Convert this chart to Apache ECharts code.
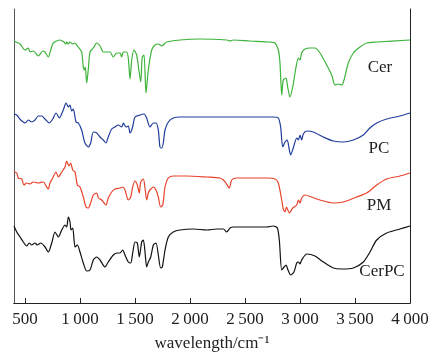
<!DOCTYPE html>
<html>
<head>
<meta charset="utf-8">
<script src="https://cdn.jsdelivr.net/npm/echarts@6/dist/echarts.min.js"></script>
<style>html,body{margin:0;padding:0;background:#fff}#c{width:433px;height:357px}</style>
</head>
<body>
<div id="c"></div>
<script>
// wavenumber (cm^-1) and offset transmittance (arbitrary units)
const cerX = [400,455,500,530,545,575,621,661,682,712,734,757,818,854,873,879,894,909,934,955,970,985,1015,1030,1039,1048,1061,1075,1091,1121,1152,1182,1212,1243,1273,1303,1334,1364,1379,1394,1425,1439,1455,1470,1491,1515,1539,1552,1566,1582,1600,1621,1652,1682,1712,1743,1788,1909,2091,2334,2364,2394,2545,2727,2773,2803,2818,2834,2848,2873,2888,2909,2934,2964,2985,3000,3015,3045,3091,3136,3182,3243,3288,3318,3348,3379,3400,3439,3485,3545,3606,3697,4000];
const cerY = [262,259,253,255,251,252,247,252,251,246,253,260,263,261,259,261,259,261,259,260,258,256,251,236,233,236,220,233,251,255,260,257,251,251,251,246,250,250,246,251,251,245,224,243,253,248,230,221,246,248,210,233,253,258,259,257,261,263,264,263,262,263,262,261,260,253,240,208,223,225,216,206,216,236,245,243,250,254,255,255,250,238,228,218,219,218,223,240,250,256,260,261,263];

const pcX = [400,425,461,485,500,530,561,591,621,652,682,721,752,782,812,848,873,894,909,924,939,964,985,1015,1045,1075,1097,1121,1152,1182,1212,1236,1257,1288,1318,1348,1379,1394,1418,1439,1455,1476,1500,1545,1582,1606,1636,1667,1691,1712,1727,1743,1757,1773,1803,1848,1909,2273,2757,2803,2824,2843,2864,2884,2900,2915,2939,2970,2985,3000,3015,3030,3061,3121,3212,3303,3394,3485,3576,3636,3697,3788,3909,4000];
const pcY = [189,188,183,181,180,183,181,183,187,187,184,180,184,190,185,193,200,196,198,192,194,181,180,173,160,156,160,171,170,166,163,160,166,174,176,178,176,180,176,177,170,175,186,188,189,185,176,180,180,173,156,155,160,173,181,185,186,186,186,185,176,156,161,163,155,148,155,165,163,168,163,169,172,171,166,162,161,163,168,175,180,184,187,190];

const pmX = [400,425,439,470,491,515,545,575,621,667,697,712,727,752,782,803,834,864,879,900,915,934,955,976,1000,1030,1055,1075,1097,1121,1152,1167,1197,1236,1257,1288,1318,1364,1388,1409,1439,1461,1479,1500,1521,1539,1552,1576,1591,1606,1621,1636,1667,1691,1712,1733,1752,1773,1803,1848,1970,2152,2273,2303,2327,2357,2379,2424,2697,2773,2803,2834,2848,2864,2877,2903,2934,2970,2985,3000,3015,3045,3106,3182,3303,3394,3515,3606,3697,3788,3909,4000];
const pmY = [131,130,125,124,118,120,119,121,120,121,116,114,120,125,131,126,131,136,142,137,140,133,131,118,116,106,96,95,100,108,110,105,103,98,105,111,114,115,116,113,103,106,116,122,118,110,121,124,115,103,110,113,116,113,106,96,98,116,125,127,127,126,125,123,120,115,123,125,125,124,120,103,94,91,96,90,95,98,103,100,105,108,106,103,100,101,106,110,118,124,127,130];

const cerpcX = [400,425,455,485,515,539,561,591,612,643,682,712,743,773,803,834,864,879,894,909,918,934,955,976,1000,1030,1061,1091,1121,1152,1182,1227,1257,1303,1339,1364,1388,1409,1439,1461,1479,1500,1521,1539,1561,1576,1591,1606,1621,1643,1667,1691,1712,1733,1748,1773,1803,1848,1909,2030,2152,2243,2303,2334,2364,2394,2545,2697,2757,2794,2812,2834,2855,2873,2891,2915,2945,2970,2985,3000,3015,3061,3136,3212,3303,3379,3485,3576,3636,3697,3788,3909,4000];
const cerpcY = [77,71,66,61,57,60,58,60,58,60,56,51,60,71,66,73,78,76,86,81,73,75,56,58,51,40,32,33,43,46,43,36,41,48,50,50,53,48,41,40,50,61,60,46,61,63,51,36,41,46,58,60,48,35,36,53,66,71,73,74,73,74,74,71,75,76,76,76,77,75,63,33,36,38,33,28,31,40,41,39,43,49,47,41,35,34,35,41,51,63,70,74,77];

const seriesNames = ['Cer','PC','PM','CerPC'];
const seriesColors = ['#3db33a','#1f3c9c','#e8432b','#111111'];
const tickValues = [500,1000,1500,2000,2500,3000,3500,4000];
const xName = 'wavelength/cm\u207B\u00B9';

const xs = [cerX, pcX, pmX, cerpcX];
const ys = [cerY, pcY, pmY, cerpcY];

const font = '"Liberation Serif", "Times New Roman", serif';
const chart = echarts.init(document.getElementById('c'), null, {renderer: 'canvas'});

const series = seriesNames.map((n, i) => ({
  name: n,
  type: 'line',
  data: xs[i].map((x, k) => [x, ys[i][k]]),
  showSymbol: false,
  smooth: 0.25,
  lineStyle: {color: seriesColors[i], width: 1.2},
  itemStyle: {color: seriesColors[i]},
  silent: true,
  animation: false
}));

const labelPos = [[380,68],[379,149],[379,206],[382,272]];

chart.setOption({
  animation: false,
  backgroundColor: '#fff',
  grid: {left: 14, right: 23, top: 9, bottom: 54, containLabel: false},
  xAxis: [{
    type: 'value', min: 400, max: 4000, position: 'bottom',
    axisLine: {show: true, lineStyle: {color: '#222', width: 1}},
    axisTick: {show: true, inside: true, length: 5, customValues: tickValues, lineStyle: {color: '#222'}},
    axisLabel: {
      show: true, margin: 8, customValues: tickValues,
      fontFamily: font, fontSize: 17, color: '#222',
      formatter: v => v >= 1000 ? String(v).replace(/(\d)(\d{3})$/, '$1\u2009$2') : String(v)
    },
    splitLine: {show: false},
    name: xName, nameLocation: 'middle', nameGap: 32,
    nameTextStyle: {fontFamily: font, fontSize: 17, color: '#222'}
  }, {
    type: 'value', min: 400, max: 4000, position: 'top',
    axisLine: {show: true, lineStyle: {color: '#222'}},
    axisTick: {show: false}, axisLabel: {show: false}, splitLine: {show: false}
  }],
  yAxis: [{
    type: 'value', min: 0, max: 294, position: 'left',
    axisLine: {show: true, lineStyle: {color: '#555'}},
    axisTick: {show: false}, axisLabel: {show: false}, splitLine: {show: false}
  }, {
    type: 'value', min: 0, max: 294, position: 'right',
    axisLine: {show: true, lineStyle: {color: '#222'}},
    axisTick: {show: false}, axisLabel: {show: false}, splitLine: {show: false}
  }],
  graphic: seriesNames.map((n, i) => ({
    type: 'text', x: labelPos[i][0], y: labelPos[i][1],
    style: {text: n, fontFamily: font, fontSize: 17, fill: '#222', align: 'center', verticalAlign: 'middle'}
  })),
  series: series
});
</script>
</body>
</html>
